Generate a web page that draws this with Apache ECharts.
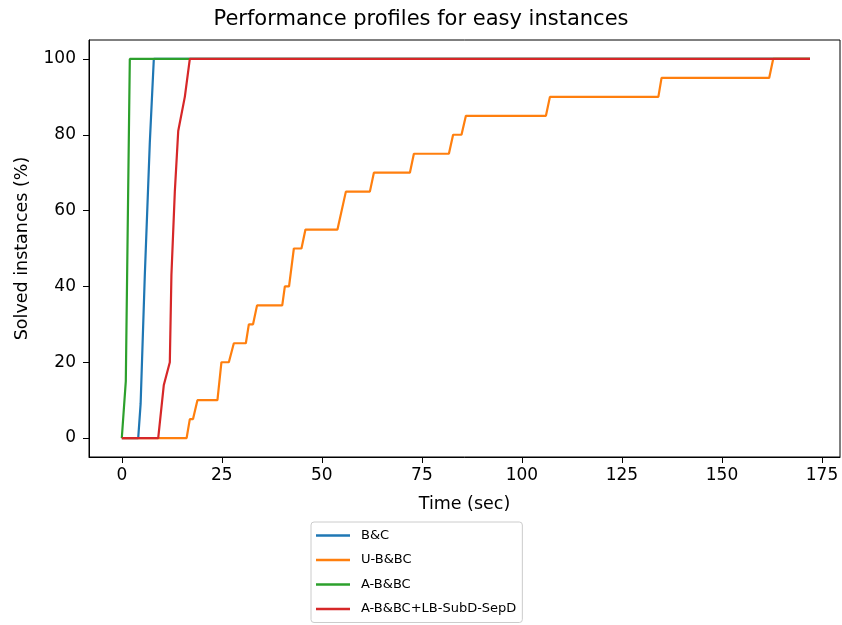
<!DOCTYPE html>
<html>
<head>
<meta charset="utf-8">
<script src="https://cdn.jsdelivr.net/npm/echarts@6/dist/echarts.min.js"></script>
<style>html,body{margin:0;padding:0;background:#fff}#c{width:842px;height:625px}</style>
</head>
<body>
<div id="c"></div>
<script>
// ---- data ----
const seriesNames = ['B&C', 'U-B&BC', 'A-B&BC', 'A-B&BC+LB-SubD-SepD'];

const bcTime   = [0, 4.1, 4.7, 5.75, 7.0, 8.0, 172];
const bcSolved = [0, 0, 9, 43, 78, 100, 100];

const ubTime   = [0, 16.2, 17.0, 17.8, 18.9, 23.9, 24.9, 26.75, 28.0, 31.0, 31.75, 32.8, 33.8, 40.1, 40.75, 41.8, 43.0, 44.9, 45.9, 53.9, 56.0, 62.0, 63.0, 72.0, 73.0, 81.75, 82.8, 84.9, 86.0, 106.0, 107.0, 134.1, 134.9, 161.8, 162.8, 172];
const ubSolved = [0, 0, 5, 5, 10, 10, 20, 20, 25, 25, 30, 30, 35, 35, 40, 40, 50, 50, 55, 55, 65, 65, 70, 70, 75, 75, 80, 80, 85, 85, 90, 90, 95, 95, 100, 100];

const abTime   = [0, 1.0, 2.0, 172];
const abSolved = [0, 15, 100, 100];

const lbTime   = [0, 9.1, 10.5, 12.0, 12.4, 13.25, 14.1, 15.75, 17.0, 172];
const lbSolved = [0, 0, 14, 20, 43, 65, 81, 90, 100, 100];

const xTicks = [0, 25, 50, 75, 100, 125, 150, 175];
const yTicks = [0, 20, 40, 60, 80, 100];

const colors = ['#1f77b4', '#ff7f0e', '#2ca02c', '#d62728'];

function pairs(xs, ys) { return xs.map((x, i) => [x, ys[i]]); }
const seriesData = [pairs(bcTime, bcSolved), pairs(ubTime, ubSolved), pairs(abTime, abSolved), pairs(lbTime, lbSolved)];

const font = "'DejaVu Sans', sans-serif";
const chart = echarts.init(document.getElementById('c'), null, {renderer: 'canvas'});
chart.setOption({
  animation: false,
  backgroundColor: '#ffffff',
  color: colors,
  title: {
    text: 'Performance profiles for easy instances',
    left: 'center', top: 4,
    textStyle: {fontFamily: font, fontSize: 21, fontWeight: 'normal', color: '#000'}
  },
  grid: {left: 89, right: 2, top: 40, bottom: 168, show: true, borderColor: '#000', borderWidth: 1, backgroundColor: 'transparent'},
  xAxis: {
    type: 'value', min: -8.2, max: 179.5,
    name: 'Time (sec)', nameLocation: 'middle', nameGap: 38,
    nameTextStyle: {fontFamily: font, fontSize: 17.5, color: '#000'},
    axisLine: {show: true, onZero: false, lineStyle: {color: '#000', width: 1}},
    axisTick: {show: true, length: 6, lineStyle: {color: '#000'}, customValues: xTicks},
    axisLabel: {fontFamily: font, fontSize: 17, color: '#000', margin: 10, customValues: xTicks},
    splitLine: {show: false}
  },
  yAxis: {
    type: 'value', min: -5, max: 105,
    name: 'Solved instances (%)', nameLocation: 'middle', nameGap: 58, nameRotate: 90,
    nameTextStyle: {fontFamily: font, fontSize: 17.5, color: '#000'},
    axisLine: {show: true, onZero: false, lineStyle: {color: '#000', width: 1}},
    axisTick: {show: true, length: 6, lineStyle: {color: '#000'}, customValues: yTicks},
    axisLabel: {fontFamily: font, fontSize: 17, color: '#000', margin: 13, customValues: yTicks},
    splitLine: {show: false}
  },
  legend: {
    orient: 'vertical', left: 311, top: 522,
    data: seriesNames,
    icon: 'rect', itemWidth: 34, itemHeight: 2.5, itemGap: 11.5,
    padding: [7, 6, 7, 5],
    backgroundColor: '#fff', borderColor: '#cccccc', borderWidth: 1, borderRadius: 3,
    textStyle: {fontFamily: font, fontSize: 13, color: '#000', padding: [0, 0, 0, 6]}
  },
  series: seriesData.map((d, i) => ({
    name: seriesNames[i], type: 'line', data: d,
    showSymbol: false, symbol: 'none',
    lineStyle: {width: 2.2, color: colors[i]},
    itemStyle: {color: colors[i]}
  }))
});
</script>
</body>
</html>
